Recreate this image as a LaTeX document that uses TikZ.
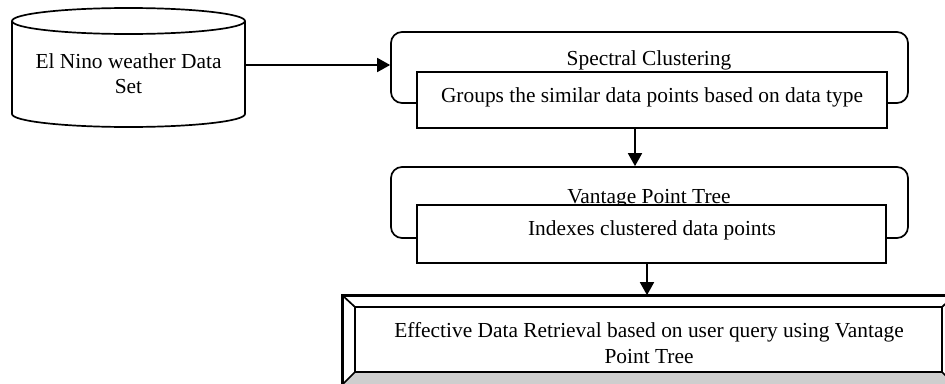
\documentclass[tikz,border=0pt]{standalone}
\usepackage{fontspec}
\setmainfont{Liberation Serif}
\usetikzlibrary{arrows.meta}
\definecolor{bevelgray}{RGB}{206,206,206}
\begin{document}
\begin{tikzpicture}[x=1pt,y=-1pt,
  outline/.style={line width=1.7pt},
  arr/.style={line width=1.8pt,-{Triangle[length=13pt,width=14pt]}},
  lbl/.style={font=\fontsize{21.4}{25}\selectfont, inner sep=0pt, anchor=base},
  box/.style={draw, line width=1.7pt, inner sep=0pt, fill=white},
  ghost/.style={inner sep=0pt},
]
\useasboundingbox (0,0) rectangle (945,383);
\clip (0,0) rectangle (945,383);
\fill[white] (0,0) rectangle (945,383);

% data set cylinder
\draw[outline, fill=white] (12,21) -- (12,114)
  arc[start angle=180, end angle=0, x radius=116.5, y radius=13] -- (245,21);
\draw[outline] (128.5,21) ellipse [x radius=116.5, y radius=13];
\node[ghost, minimum width=233pt, minimum height=80pt] (db) at (128.5,65) {};
\node[lbl] (dbl1) at (128.5,68) {El Nino weather Data};
\node[lbl] (dbl2) at (128.5,93.5) {Set};

% spectral clustering stage
\node[box, rounded corners=11pt, minimum width=517pt, minimum height=71pt] (scout) at (649.5,67.5) {};
\node[lbl] (sctitle) at (649,65.5) {Spectral Clustering};
\node[box, minimum width=470pt, minimum height=56pt] (scin) at (652,100) {};
\node[lbl] (scdesc) at (652,102.5) {Groups the similar data points based on data type};

% vantage point tree stage
\node[box, rounded corners=11pt, minimum width=517pt, minimum height=71pt] (vpout) at (649.5,202.5) {};
\node[lbl] (vptitle) at (649,203) {Vantage Point Tree};
\node[box, minimum width=469pt, minimum height=58pt] (vpin) at (651.5,234) {};
\node[lbl] (vpdesc) at (652,235.5) {Indexes clustered data points};

% bevelled result box
\node[draw, outline, fill=white, inner sep=0pt, minimum width=611pt, minimum height=88pt] (bvout) at (648.5,340) {};
\node[ghost, minimum width=587pt, minimum height=65pt] (bvin) at (648.5,339.5) {};
\fill[bevelgray] (bvout.south west) -- (bvout.south east) -- (bvin.south east) -- (bvin.south west) -- cycle;
\draw[outline] (bvin.south west) rectangle (bvin.north east);
\draw[outline] (bvout.south west) rectangle (bvout.north east);
\draw[outline] (bvout.north west) -- (bvin.north west);
\draw[outline] (bvout.south west) -- (bvin.south west);
\draw[outline] (bvout.north east) -- (bvin.north east);
\draw[outline] (bvout.south east) -- (bvin.south east);
\node[lbl] (bvl1) at (649,337) {Effective Data Retrieval based on user query using Vantage};
\node[lbl] (bvl2) at (649,363) {Point Tree};

% connectors
\coordinate (c1) at (635,0);
\coordinate (c2) at (647,0);
\draw[arr] (db.east) -- (db.east -| scout.west);
\draw[arr] (scin.south -| c1) -- (vpout.north -| c1);
\draw[arr] (vpin.south -| c2) -- (bvout.north -| c2);
\end{tikzpicture}
\end{document}
